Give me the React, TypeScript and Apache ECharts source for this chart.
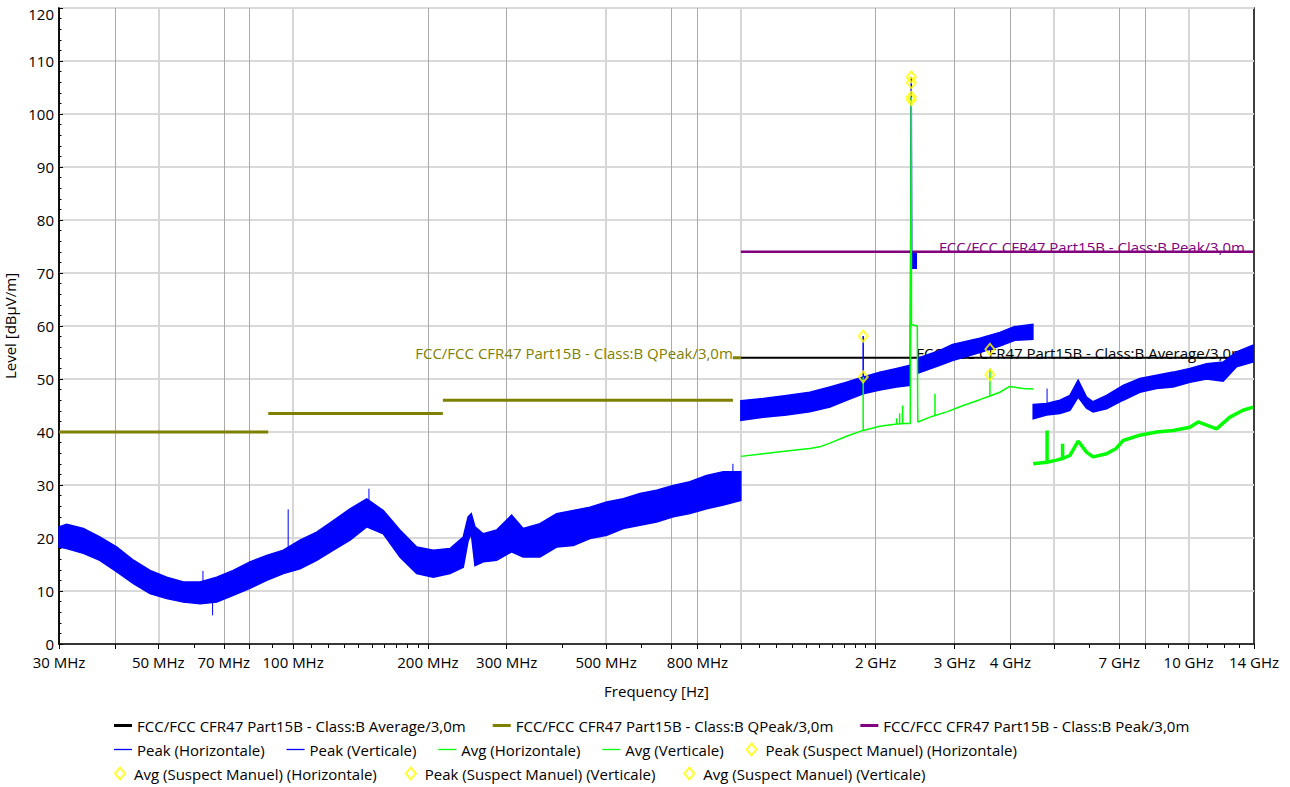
import React, { useEffect, useRef } from "react";
import * as echarts from "echarts";

const FONT = "'Open Sans', 'Noto Sans', sans-serif";

// ---------- axes (frequency in MHz, drawn on log10 scale) ----------
const X_MIN_MHZ = 30;
const X_MAX_MHZ = 14000;
const xLabelTicks = [30, 50, 70, 100, 200, 300, 500, 800, 2000, 3000, 4000, 7000, 10000, 14000];
const xMajorTicks = [30, 40, 50, 70, 80, 100, 200, 300, 500, 700, 800, 1000, 2000, 3000, 4000, 5000, 7000, 8000, 10000, 14000];
const xMinorTicks = [60, 90, 110, 120, 130, 140, 150, 160, 170, 180, 190, 400, 600, 900, 1100, 1200, 1300, 1400, 1500, 1600, 1700, 1800, 1900, 6000, 9000, 11000, 12000, 13000];
const xGridDark = [40, 70, 80, 200, 300, 700, 800, 2000, 3000, 4000, 7000, 8000];
const xGridLight = [50, 100, 500, 1000, 5000, 10000];
const Y_MIN = 0;
const Y_MAX = 120;
const Y_STEP = 10;

// ---------- limit lines [MHz, dBµV/m] ('-' = gap) ----------
const NAME_AVG_LIMIT = "FCC/FCC CFR47 Part15B - Class:B Average/3,0m";
const NAME_QP_LIMIT = "FCC/FCC CFR47 Part15B - Class:B QPeak/3,0m";
const NAME_PK_LIMIT = "FCC/FCC CFR47 Part15B - Class:B Peak/3,0m";
const limitAverage = [[1000, 54], [14000, 54]];
const limitQPeak = [[30, 40], [88, 40], [88, "-"], [88, 43.5], [216, 43.5], [216, "-"], [216, 46], [960, 46], [960, "-"], [960, 54], [1000, 54]];
const limitPeak = [[1000, 74], [14000, 74]];

// ---------- Peak trace envelopes [MHz, upper, lower] ----------
const peakBandA = [
  [30, 22.1, 18.3], [31.2, 22.6, 18.0], [34, 21.8, 17.1], [37, 20.2, 15.8], [40.4, 18.3, 13.6],
  [44, 15.8, 11.4], [47.9, 13.9, 9.5], [52.2, 12.6, 8.6], [56.9, 11.7, 7.9], [62, 11.7, 7.6],
  [67.5, 12.6, 7.9], [73.5, 13.9, 9.2], [80.1, 15.5, 10.5], [87.3, 16.7, 12.0], [95.1, 17.7, 13.3],
  [103.6, 19.6, 14.2], [112.9, 21.1, 15.8], [123, 23.3, 17.7], [134, 25.5, 19.6], [146, 27.4, 22.1],
  [159, 25.2, 20.8], [173.2, 21.5, 16.4], [188.8, 18.3, 13.3], [205.7, 17.7, 12.6], [224.1, 18.0, 13.3],
  [239.9, 20.2, 14.5], [246, 24.0, 19.5], [250, 24.6, 20.8], [254.8, 22.1, 14.8], [265.9, 20.8, 15.5],
  [284.8, 21.5, 15.8], [307.6, 24.3, 17.4], [326.4, 21.8, 16.4], [355.9, 22.7, 16.4], [387.7, 24.6, 18.3],
  [422.4, 25.2, 18.6], [460.3, 25.8, 19.9], [501.6, 26.8, 20.5], [546.3, 27.4, 21.8], [595.3, 28.4, 22.4],
  [648.4, 29.0, 23.0], [706.3, 29.9, 24.0], [769.6, 30.6, 24.6], [838.5, 31.8, 25.5], [913.5, 32.5, 26.2],
  [1000, 32.5, 27.1],
];
const peakBandB = [
  [1000, 45.9, 42.2], [1122, 46.3, 42.8], [1265, 46.9, 43.2], [1426, 47.5, 43.8], [1581, 48.5, 44.7],
  [1722, 49.4, 46.0], [1876, 50.4, 47.2], [2044, 51.3, 47.9], [2228, 52.0, 48.5], [2390, 52.6, 48.8],
];
const peakBandChunk = [[2410, 73.7, 70.9], [2465, 73.7, 70.9]];
const peakBandC = [
  [2485, 53.9, 51.1], [2783, 55.4, 52.6], [2970, 56.5, 53.5], [3418, 57.7, 55.0], [3788, 58.8, 56.2],
  [4092, 59.9, 57.3], [4490, 60.3, 57.5],
];
const peakBandD = [
  [4497, 45.2, 42.5], [4818, 45.4, 43.2], [5160, 46.0, 43.5], [5433, 46.9, 44.1], [5667, 49.8, 46.6],
  [5916, 46.6, 44.5], [6120, 45.7, 43.8], [6558, 46.9, 44.4], [7143, 48.8, 46.0], [7782, 50.1, 47.5],
  [8481, 50.7, 48.2], [9237, 51.3, 48.5], [10068, 52.0, 49.4], [10968, 52.9, 50.0], [11946, 53.2, 49.6],
  [12798, 55.1, 52.3], [13938, 56.4, 53.2],
];
// narrow peaks on the Peak traces [MHz, dBµV/m]
const peakSpikesH = [
  [62.9, 11.0], [62.9, 13.8], [62.9, "-"], [66.1, 7.8], [66.1, 5.4], [66.1, "-"],
  [97.5, 17.0], [97.5, 25.4], [97.5, "-"], [147.7, 27.0], [147.7, 29.3], [147.7, "-"],
  [960, 31.0], [960, 34.0], [960, "-"], [4830, 45.0], [4830, 48.2],
];
const peakSpikesV = [
  [1876, 48.0], [1876, 58.1], [1876, "-"],
  [2390, 52.0], [2393, 66.2], [2402, 107.0], [2408, 73.7],
];

// ---------- Avg traces [MHz, dBµV/m] ----------
const avgH = [
  [1000, 35.4], [1122, 35.9], [1265, 36.4], [1426, 36.9], [1501, 37.2], [1581, 37.9], [1722, 39.2],
  [1876, 40.3], [1876, 50.4], [1876, 40.3], [2044, 41.1], [2228, 41.5], [2228, 42.6], [2228, 41.5],
  [2263, 41.5], [2263, 43.5], [2263, 41.5], [2298, 41.6], [2298, 45.0], [2298, 41.6], [2390, 41.6],
  [2393, 60.5], [2402, 103.2], [2405, 60.3], [2478, 60.0], [2483, 44.7], [2485, 41.9],
  [2646, 42.8], [2714, 43.1], [2714, 47.2], [2714, 43.1], [2882, 43.8], [3139, 45.0], [3418, 46.1],
  [3600, 46.8], [3600, 52.0], [3600, 46.8], [3788, 47.5], [3985, 48.6], [4267, 48.2], [4497, 48.1],
];
const avgV = [
  [4497, 34.0], [4700, 34.2], [4830, 34.3], [4830, 40.3], [4830, 34.3], [5071, 34.7], [5231, 35.0],
  [5231, 37.8], [5231, 35.0], [5433, 35.6], [5667, 38.3], [5916, 36.2], [6120, 35.3], [6558, 35.9],
  [6891, 36.9], [7143, 38.4], [7782, 39.4], [8481, 40.0], [9237, 40.3], [10068, 40.9], [10505, 41.9],
  [11544, 40.6], [12368, 42.8], [13229, 44.1], [13938, 44.7],
];

// ---------- suspect markers [MHz, dBµV/m] ----------
const peakSuspectH = [[1876, 58.1], [2402, 107.0]];
const avgSuspectH = [[1876, 50.4], [2402, 103.2]];
const peakSuspectV = [[2402, 105.9], [3600, 55.6]];
const avgSuspectV = [[2402, 102.7], [3600, 50.8]];

const lg = (f: number) => Math.log10(f);
const toXY = (arr: any[]) => arr.map(([f, v]) => [lg(f), v]);

const BLUE = "#0000ff";
const GREEN = "#00ff00";
const YELLOW = "#ffff00";

const ICON_THICK = "path://M0,0H18V3H0Z";
const ICON_THIN = "path://M0,0H18V1.3H0Z";
const ICON_DIAMOND = "path://M5,0L10,6L5,12L0,6Z";

function bandSeries(name: string, bands: number[][][], color: string) {
  return {
    type: "custom",
    name,
    silent: true,
    z: 3,
    data: bands.map((b) => [lg(b[0][0]), b[0][1]]),
    renderItem: (params: any, api: any) => {
      const b = bands[params.dataIndex];
      const top = b.map((p) => api.coord([lg(p[0]), p[1]]));
      const bottom = b.slice().reverse().map((p) => api.coord([lg(p[0]), p[2]]));
      return {
        type: "polygon",
        shape: { points: top.concat(bottom) },
        style: { fill: color, stroke: color, lineWidth: 1.5 },
      };
    },
  };
}

function limitSeries(name: string, data: any[], color: string, width: number, offsetX: number) {
  return {
    type: "line",
    name,
    data: toXY(data),
    symbol: "none",
    z: 1,
    lineStyle: { color, width },
    itemStyle: { color },
    endLabel: {
      show: true,
      formatter: name,
      color,
      fontFamily: FONT,
      fontSize: 15,
      align: "right",
      verticalAlign: "middle",
      distance: 5,
      offset: [offsetX, -5],
    },
  };
}

function suspectSeries(name: string, data: number[][]) {
  return {
    type: "scatter",
    name,
    data: toXY(data),
    symbol: "diamond",
    symbolSize: [9, 11],
    z: 6,
    itemStyle: { color: "rgba(255,255,255,0)", borderColor: YELLOW, borderWidth: 2 },
  };
}

const fmtFreq = (v: number) => {
  const f = Math.round(Math.pow(10, v));
  return f >= 1000 ? `${f / 1000} GHz` : `${f} MHz`;
};

export default function App() {
  const ref = useRef<HTMLDivElement>(null);
  useEffect(() => {
    if (!ref.current) return;
    const chart = echarts.init(ref.current, undefined, { renderer: "svg" });
    const xBase = {
      type: "value",
      gridIndex: 0,
      position: "bottom",
      min: lg(X_MIN_MHZ),
      max: lg(X_MAX_MHZ),
    };
    const legendText = { color: "#000", fontFamily: FONT, fontSize: 15 };
    const legendCommon = {
      left: 114,
      itemGap: 22,
      itemWidth: 18,
      itemHeight: 12,
      textStyle: legendText,
      selectedMode: false,
      padding: 0,
    };
    chart.setOption({
      animation: false,
      backgroundColor: "#fff",
      textStyle: { fontFamily: FONT },
      grid: {
        left: 59, right: 36, top: 8, bottom: 143,
        show: true, borderColor: "#000", borderWidth: 1.5,
        containLabel: false, outerBoundsMode: "none",
      },
      xAxis: [
        {
          ...xBase,
          name: "Frequency [Hz]",
          nameLocation: "middle",
          nameGap: 39,
          nameTextStyle: { color: "#000", fontFamily: FONT, fontSize: 15 },
          axisLine: { show: true, onZero: false, lineStyle: { color: "#000", width: 1.5 } },
          axisTick: { show: true, customValues: xMajorTicks.map(lg), length: 5, lineStyle: { color: "#000" } },
          axisLabel: { customValues: xLabelTicks.map(lg), formatter: fmtFreq, color: "#000", fontFamily: FONT, fontSize: 15, margin: 10 },
          splitLine: { show: false },
        },
        {
          ...xBase,
          axisLine: { show: false },
          axisTick: { show: true, customValues: xMinorTicks.map(lg), length: 4, lineStyle: { color: "#000" } },
          axisLabel: { show: false },
          splitLine: { show: false },
        },
        {
          ...xBase,
          axisLine: { show: false },
          axisTick: { show: false, customValues: xGridDark.map(lg) },
          axisLabel: { show: false },
          splitLine: { show: true, lineStyle: { color: "#ababab", width: 1 } },
        },
        {
          ...xBase,
          axisLine: { show: false },
          axisTick: { show: false, customValues: xGridLight.map(lg) },
          axisLabel: { show: false },
          splitLine: { show: true, lineStyle: { color: "#d6d6d6", width: 2 } },
        },
      ],
      yAxis: {
        type: "value",
        min: Y_MIN,
        max: Y_MAX,
        interval: Y_STEP,
        name: "Level [dBµV/m]",
        nameLocation: "middle",
        nameGap: 32,
        nameTextStyle: { color: "#000", fontFamily: FONT, fontSize: 15 },
        axisLine: { show: true, lineStyle: { color: "#000", width: 1.5 } },
        axisTick: { show: true, inside: true, length: 4, lineStyle: { color: "#000" } },
        minorTick: { show: true, splitNumber: 5, length: 2.5, lineStyle: { color: "#000" } },
        splitLine: { show: true, lineStyle: { color: "#d9d9d9", width: 2 } },
        axisLabel: {
          color: "#000",
          fontFamily: FONT,
          fontSize: 15,
          margin: 5,
          formatter: (v: number) => (v === Y_MAX ? `{t|${v}}` : `${v}`),
          rich: { t: { color: "#000", fontFamily: FONT, fontSize: 15, padding: [11, 0, 0, 0] } },
        },
      },
      legend: [
        {
          ...legendCommon,
          top: 718,
          itemGap: 27,
          data: [
            { name: NAME_AVG_LIMIT, icon: ICON_THICK },
            { name: NAME_QP_LIMIT, icon: ICON_THICK },
            { name: NAME_PK_LIMIT, icon: ICON_THICK },
          ],
        },
        {
          ...legendCommon,
          top: 742,
          data: [
            { name: "Peak (Horizontale)", icon: ICON_THIN },
            { name: "Peak (Verticale)", icon: ICON_THIN },
            { name: "Avg (Horizontale)", icon: ICON_THIN },
            { name: "Avg (Verticale)", icon: ICON_THIN },
            { name: "Peak (Suspect Manuel) (Horizontale)", icon: ICON_DIAMOND },
          ],
        },
        {
          ...legendCommon,
          top: 766,
          itemGap: 28,
          data: [
            { name: "Avg (Suspect Manuel) (Horizontale)", icon: ICON_DIAMOND },
            { name: "Peak (Suspect Manuel) (Verticale)", icon: ICON_DIAMOND },
            { name: "Avg (Suspect Manuel) (Verticale)", icon: ICON_DIAMOND },
          ],
        },
      ],
      series: [
        limitSeries(NAME_AVG_LIMIT, limitAverage, "#000000", 2, -14),
        limitSeries(NAME_QP_LIMIT, limitQPeak, "#808000", 3, -13),
        limitSeries(NAME_PK_LIMIT, limitPeak, "#800080", 2.5, -14),
        {
          type: "line",
          name: "Peak (Horizontale)",
          data: toXY(peakSpikesH),
          symbol: "none",
          z: 3,
          lineStyle: { color: BLUE, width: 1 },
          itemStyle: { color: BLUE },
        },
        {
          type: "line",
          name: "Peak (Verticale)",
          data: toXY(peakSpikesV),
          symbol: "none",
          z: 3,
          lineStyle: { color: BLUE, width: 1.5 },
          itemStyle: { color: BLUE },
        },
        bandSeries("Peak (Horizontale)", [peakBandA, peakBandB, peakBandChunk, peakBandC, peakBandD], BLUE),
        {
          type: "line",
          name: "Avg (Horizontale)",
          data: toXY(avgH),
          symbol: "none",
          z: 4,
          lineStyle: { color: GREEN, width: 1.5 },
          itemStyle: { color: GREEN },
        },
        {
          type: "line",
          name: "Avg (Verticale)",
          data: toXY(avgV),
          symbol: "none",
          z: 4,
          lineStyle: { color: GREEN, width: 3.5 },
          itemStyle: { color: GREEN },
        },
        suspectSeries("Peak (Suspect Manuel) (Horizontale)", peakSuspectH),
        suspectSeries("Avg (Suspect Manuel) (Horizontale)", avgSuspectH),
        suspectSeries("Peak (Suspect Manuel) (Verticale)", peakSuspectV),
        suspectSeries("Avg (Suspect Manuel) (Verticale)", avgSuspectV),
      ],
    });
    return () => chart.dispose();
  }, []);
  return <div ref={ref} style={{ position: "absolute", left: 0, top: 0, width: 1290, height: 787 }} />;
}
